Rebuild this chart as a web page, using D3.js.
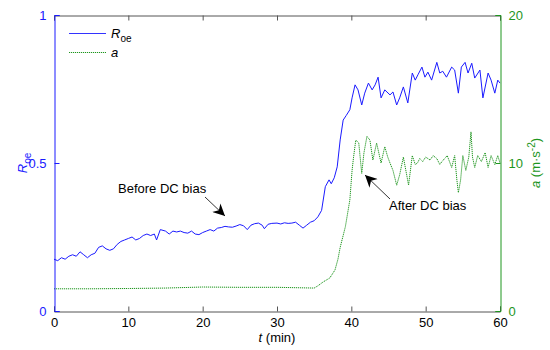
<!DOCTYPE html>
<html lang="en">
<head>
    <meta charset="UTF-8">
    <title>Roe and a vs time</title>
    <script src="https://d3js.org/d3.v7.min.js"></script>
    <style>
        body { margin: 0; background: #fff; }
        text { font-family: "Liberation Sans", Arial, sans-serif; }
    </style>
</head>
<body>
<svg width="550" height="350"></svg>
<script>
    // time (min) and R_oe readings
    let tRoe = [0,0.5,1,1.5,2,2.5,3,3.5,4,4.5,5,5.5,6,6.5,7,7.5,8,8.5,9,9.5,10,10.5,11,11.5,12,12.5,13,13.5,13.8,14.3,15,15.5,16,16.5,17,17.5,18,18.5,19,19.5,20,20.5,21,21.5,22,22.5,23,23.5,24,24.5,25,25.5,26,26.5,27,27.5,28,28.3,28.8,29.3,30,30.5,31,31.5,32,32.5,33,33.5,34,34.5,35,35.5,36,36.5,37,37.3,37.7,38.1,38.5,38.9,39.3,39.8,40.1,40.5,40.9,41.4,41.8,42.3,42.8,43.2,43.6,44,44.5,45.2,45.6,46.1,46.5,47,47.6,48.2,48.6,49,49.5,49.9,50.3,50.8,51.5,51.9,52.3,52.8,53.5,53.9,54.4,54.8,55.3,55.7,56.2,56.6,57.3,57.7,58.4,58.8,59.3,59.7,60]
    let roe = [0.175,0.17,0.18,0.175,0.185,0.19,0.185,0.2,0.19,0.18,0.19,0.195,0.215,0.22,0.21,0.205,0.21,0.225,0.235,0.24,0.245,0.25,0.24,0.245,0.255,0.26,0.255,0.26,0.24,0.275,0.27,0.26,0.27,0.267,0.27,0.265,0.263,0.27,0.26,0.258,0.265,0.27,0.275,0.27,0.28,0.282,0.286,0.284,0.283,0.287,0.292,0.288,0.275,0.29,0.295,0.297,0.29,0.278,0.293,0.296,0.297,0.294,0.298,0.296,0.297,0.3,0.29,0.28,0.29,0.3,0.305,0.318,0.34,0.42,0.443,0.43,0.45,0.487,0.578,0.645,0.66,0.68,0.72,0.764,0.747,0.696,0.736,0.77,0.747,0.764,0.79,0.72,0.747,0.73,0.74,0.696,0.72,0.757,0.703,0.804,0.78,0.8,0.824,0.79,0.807,0.78,0.84,0.804,0.81,0.79,0.824,0.814,0.736,0.824,0.84,0.804,0.837,0.787,0.814,0.72,0.804,0.78,0.736,0.78,0.77]

    // time (min) and acceleration a (m/s^2) readings
    let tAcc = [0,5,10,15,20,25,30,33,35,35.5,36.2,37.1,37.8,38.2,38.5,39.2,39.8,40.1,40.3,40.6,41,41.4,41.7,42.1,42.5,42.9,43.4,44,44.5,44.9,45.2,45.6,46.1,46.5,47,47.5,47.7,48.2,48.6,48.9,49.2,49.6,50,50.6,51,51.5,51.9,52.2,52.9,53.5,53.9,54.2,54.4,54.7,55,55.4,55.8,56.1,56.3,56.6,57,57.5,58,58.4,58.8,59.3,59.7,60]
    let acc = [1.5,1.5,1.52,1.55,1.62,1.6,1.6,1.57,1.55,1.7,1.96,2.23,2.77,3.5,4.3,5.7,7.5,9.5,10.4,11.55,11.35,9.3,10.7,11.8,11.55,10.2,11.35,10,11.1,10.4,10,9.5,8.5,9.2,10.4,9.05,8.5,10.5,9.9,10,10.3,10.1,10.4,10.2,10.5,10.3,9.9,10.1,10.5,9.7,10.5,8.85,8,8.85,10.5,9.5,10.4,12.1,10.4,9.7,10.5,10.1,10.7,9.7,10.5,9.9,10.5,10]

    let xTicks = [0,10,20,30,40,50,60]
    let roeTicks = [0,0.5,1]
    let accTicks = [0,10,20]

    let blue = "#1a1aff", green = "#1e961e"
    let svg = d3.select("svg")
    let m = {left: 54, right: 500, top: 15, bottom: 311}

    let x = d3.scaleLinear().domain([0,60]).range([m.left, m.right])
    let yL = d3.scaleLinear().domain([0,1]).range([m.bottom, m.top])
    let yR = d3.scaleLinear().domain([0,20]).range([m.bottom, m.top])

    // arrow marker
    svg.append("defs").append("marker")
        .attr("id","arr").attr("viewBox","0 0 10 10").attr("refX",10).attr("refY",5)
        .attr("markerWidth",14).attr("markerHeight",12).attr("markerUnits","userSpaceOnUse")
        .attr("orient","auto")
        .append("path").attr("d","M0,0 L10,5 L0,10 L3,5 Z").attr("fill","#000")

    // lines
    let lineR = d3.line().x((d,i)=>x(tRoe[i])).y(d=>yL(d))
    let lineA = d3.line().x((d,i)=>x(tAcc[i])).y(d=>yR(d))
    svg.append("path").datum(acc).attr("d",lineA).attr("fill","none")
        .attr("stroke",green).attr("stroke-width",1).attr("stroke-dasharray","1.2,0.8")
    svg.append("path").datum(roe).attr("d",lineR).attr("fill","none")
        .attr("stroke",blue).attr("stroke-width",1)

    // axes box
    let gx = svg.append("g").attr("transform",`translate(0,${m.bottom+0.5})`)
        .call(d3.axisBottom(x).tickValues(xTicks).tickSize(-5).tickPadding(6))
    gx.select(".domain").attr("stroke","#555")
    gx.selectAll(".tick line").attr("stroke","#555")
    gx.selectAll("text").attr("font-size",13).attr("fill","#000")

    let gt = svg.append("g").attr("transform",`translate(0,${m.top+0.5})`)
        .call(d3.axisTop(x).tickValues(xTicks).tickSize(-5).tickFormat(""))
    gt.select(".domain").attr("stroke","#555")
    gt.selectAll(".tick line").attr("stroke","#555")

    let gl = svg.append("g").attr("transform",`translate(${m.left+0.5},0)`)
        .call(d3.axisLeft(yL).tickValues(roeTicks).tickSize(-5).tickPadding(8).tickFormat(d3.format("")))
    gl.select(".domain").attr("stroke",blue)
    gl.selectAll(".tick line").attr("stroke",blue)
    gl.selectAll("text").attr("font-size",13).attr("fill",blue)

    let gr = svg.append("g").attr("transform",`translate(${m.right+0.5},0)`)
        .call(d3.axisRight(yR).tickValues(accTicks).tickSize(-5).tickPadding(8))
    gr.select(".domain").attr("stroke",green)
    gr.selectAll(".tick line").attr("stroke",green)
    gr.selectAll("text").attr("font-size",13).attr("fill",green)

    // axis titles
    let xt = svg.append("text").attr("x",277).attr("y",342).attr("text-anchor","middle")
        .attr("font-size",13)
    xt.append("tspan").attr("font-style","italic").text("t")
    xt.append("tspan").text(" (min)")

    let ylt = svg.append("text").attr("transform","translate(27,163) rotate(-90)")
        .attr("text-anchor","middle").attr("font-size",13).attr("fill",blue)
    ylt.append("tspan").attr("font-style","italic").text("R")
    ylt.append("tspan").attr("font-size",10).attr("dy",4).text("oe")

    let yrt = svg.append("text").attr("transform","translate(540,163) rotate(-90)")
        .attr("text-anchor","middle").attr("font-size",13).attr("fill",green)
    yrt.append("tspan").attr("font-style","italic").text("a")
    yrt.append("tspan").text(" (m·s")
    yrt.append("tspan").attr("font-size",10).attr("dy",-5).text("-2")
    yrt.append("tspan").attr("dy",5).text(")")

    // legend
    svg.append("line").attr("x1",69).attr("x2",106).attr("y1",33.5).attr("y2",33.5)
        .attr("stroke","#3333ff").attr("stroke-width",1)
    svg.append("line").attr("x1",69).attr("x2",106).attr("y1",52.5).attr("y2",52.5)
        .attr("stroke",green).attr("stroke-dasharray","1.2,0.8")
    let l1 = svg.append("text").attr("x",111).attr("y",38).attr("font-size",13)
    l1.append("tspan").attr("font-style","italic").text("R")
    l1.append("tspan").attr("font-size",10).attr("dy",4).text("oe")
    svg.append("text").attr("x",111).attr("y",57).attr("font-size",13)
        .attr("font-style","italic").text("a")

    // annotations
    svg.append("text").attr("x",118).attr("y",193).attr("font-size",13).text("Before DC bias")
    svg.append("line").attr("x1",205).attr("y1",197).attr("x2",225).attr("y2",216)
        .attr("stroke","#000").attr("stroke-width",0.8).attr("marker-end","url(#arr)")
    svg.append("text").attr("x",389).attr("y",210).attr("font-size",13).text("After DC bias")
    svg.append("line").attr("x1",390).attr("y1",199).attr("x2",365).attr("y2",175)
        .attr("stroke","#000").attr("stroke-width",0.8).attr("marker-end","url(#arr)")
</script>
</body>
</html>
